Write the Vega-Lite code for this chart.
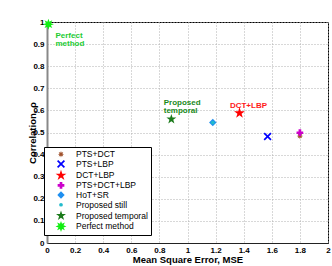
{
  "$schema": "https://vega.github.io/schema/vega-lite/v6.json",
  "width": 281,
  "height": 221,
  "autosize": {"type": "none"},
  "padding": {"left": 47, "top": 22, "right": 4, "bottom": 23},
  "background": "white",
  "config": {
    "font": "Liberation Sans",
    "view": {"stroke": "black", "strokeWidth": 1}
  },
  "datasets": {
    "points": [
      {"method": "PTS+DCT", "mse": 1.8, "corr": 0.484},
      {"method": "PTS+LBP", "mse": 1.57, "corr": 0.482},
      {"method": "DCT+LBP", "mse": 1.37, "corr": 0.588},
      {"method": "PTS+DCT+LBP", "mse": 1.8, "corr": 0.499},
      {"method": "HoT+SR", "mse": 1.18, "corr": 0.545},
      {"method": "Proposed still", "mse": 1.18, "corr": 0.545},
      {"method": "Proposed temporal", "mse": 0.885, "corr": 0.56},
      {"method": "Perfect method", "mse": 0.01, "corr": 0.99}
    ],
    "labels": [
      {"label": "Perfect", "mse": 0.06, "corr": 0.938, "group": "perfect"},
      {"label": "method", "mse": 0.06, "corr": 0.899, "group": "perfect"},
      {"label": "Proposed", "mse": 0.831, "corr": 0.635, "group": "temporal"},
      {"label": "temporal", "mse": 0.831, "corr": 0.599, "group": "temporal"},
      {"label": "DCT+LBP", "mse": 1.302, "corr": 0.62, "group": "dct"}
    ]
  },
  "encoding": {
    "x": {
      "field": "mse", "type": "quantitative",
      "scale": {"domain": [0, 2], "nice": false, "zero": false},
      "axis": {
        "title": "Mean Square Error, MSE",
        "values": [0, 0.2, 0.4, 0.6, 0.8, 1, 1.2, 1.4, 1.6, 1.8, 2],
        "format": "~g",
        "ticks": false,
        "labelOverlap": false,
        "labelPadding": 3,
        "labelFontSize": 8,
        "labelFontWeight": "bold",
        "labelColor": "black",
        "labelFlush": false,
        "domainColor": "#222",
        "domainWidth": 1,
        "grid": true,
        "gridColor": "#b0b0b0",
        "gridDash": [1, 2],
        "titleFontSize": 9.5,
        "titleFontWeight": "bold",
        "titleColor": "black",
        "titleY": 16,
        "titleBaseline": "middle"
      }
    },
    "y": {
      "field": "corr", "type": "quantitative",
      "scale": {"domain": [0, 1], "nice": false, "zero": false},
      "axis": {
        "title": "Correlation, ρ",
        "values": [0, 0.1, 0.2, 0.3, 0.4, 0.5, 0.6, 0.7, 0.8, 0.9, 1],
        "format": "~g",
        "ticks": false,
        "labelOverlap": false,
        "labelPadding": 3,
        "labelFontSize": 8,
        "labelFontWeight": "bold",
        "labelColor": "black",
        "labelFlush": false,
        "domainColor": "#888888",
        "domainWidth": 2,
        "grid": true,
        "gridColor": "#b0b0b0",
        "gridDash": [1, 2],
        "titleFontSize": 9.5,
        "titleFontWeight": "bold",
        "titleColor": "black",
        "titleX": -15,
        "titleY": 110.5,
        "titleAngle": -90,
        "titleAlign": "center",
        "titleBaseline": "middle"
      }
    }
  },
  "layer": [
    {
      "data": {"name": "points"},
      "mark": {"type": "point", "filled": true, "opacity": 1, "strokeWidth": 0},
      "encoding": {
        "color": {
          "field": "method", "type": "nominal",
          "scale": {
            "domain": ["PTS+DCT", "PTS+LBP", "DCT+LBP", "PTS+DCT+LBP", "HoT+SR", "Proposed still", "Proposed temporal", "Perfect method"],
            "range": ["#a0522d", "#0000ff", "#ff0000", "#cc00cc", "#1e8ff0", "#22bbcc", "#1a7a1a", "#11ee11"]
          },
          "legend": {
            "title": null,
            "orient": "none",
            "legendX": -3,
            "legendY": 125,
            "strokeColor": "black",
            "fillColor": "white",
            "padding": 3,
            "labelFontSize": 8.5,
            "labelColor": "black",
            "labelFont": "Liberation Sans",
            "rowPadding": 0.7,
            "symbolOffset": 8,
            "labelOffset": 9,
            "symbolStrokeWidth": 0
          }
        },
        "shape": {
          "field": "method", "type": "nominal",
          "scale": {
            "domain": ["PTS+DCT", "PTS+LBP", "DCT+LBP", "PTS+DCT+LBP", "HoT+SR", "Proposed still", "Proposed temporal", "Perfect method"],
            "range": [
              "M0,-1L0.191,-0.462L0.707,-0.707L0.462,-0.191L1,0L0.462,0.191L0.707,0.707L0.191,0.462L0,1L-0.191,0.462L-0.707,0.707L-0.462,0.191L-1,0L-0.462,-0.191L-0.707,-0.707L-0.191,-0.462Z",
              "M-1,-0.7L-0.7,-1L0,-0.3L0.7,-1L1,-0.7L0.3,0L1,0.7L0.7,1L0,0.3L-0.7,1L-1,0.7L-0.3,0Z",
              "M0,-1L0.2245,-0.309L0.951,-0.309L0.363,0.118L0.588,0.809L0,0.382L-0.588,0.809L-0.363,0.118L-0.951,-0.309L-0.2245,-0.309Z",
              "cross",
              "diamond",
              "circle",
              "M0,-1L0.2245,-0.309L0.951,-0.309L0.363,0.118L0.588,0.809L0,0.382L-0.588,0.809L-0.363,0.118L-0.951,-0.309L-0.2245,-0.309Z",
              "M0,-1L0.191,-0.462L0.707,-0.707L0.462,-0.191L1,0L0.462,0.191L0.707,0.707L0.191,0.462L0,1L-0.191,0.462L-0.707,0.707L-0.462,0.191L-1,0L-0.462,-0.191L-0.707,-0.707L-0.191,-0.462Z"
            ]
          },
          "legend": {"title": null}
        },
        "size": {
          "field": "method", "type": "nominal",
          "scale": {
            "type": "ordinal",
            "domain": ["PTS+DCT", "PTS+LBP", "DCT+LBP", "PTS+DCT+LBP", "HoT+SR", "Proposed still", "Proposed temporal", "Perfect method"],
            "range": [40, 64, 130, 45, 55, 14, 110, 120]
          },
          "legend": {"title": null}
        }
      }
    },
    {
      "data": {"name": "labels"},
      "transform": [{"filter": "datum.group == 'perfect'"}],
      "mark": {"type": "text", "align": "left", "baseline": "middle", "fontSize": 8, "fontWeight": "bold", "font": "Liberation Sans", "color": "#22cc33"},
      "encoding": {"text": {"field": "label"}}
    },
    {
      "data": {"name": "labels"},
      "transform": [{"filter": "datum.group == 'temporal'"}],
      "mark": {"type": "text", "align": "left", "baseline": "middle", "fontSize": 8, "fontWeight": "bold", "font": "Liberation Sans", "color": "#1a8a1a"},
      "encoding": {"text": {"field": "label"}}
    },
    {
      "data": {"name": "labels"},
      "transform": [{"filter": "datum.group == 'dct'"}],
      "mark": {"type": "text", "align": "left", "baseline": "middle", "fontSize": 8, "fontWeight": "bold", "font": "Liberation Sans", "color": "#ff1a1a"},
      "encoding": {"text": {"field": "label"}}
    }
  ]
}
